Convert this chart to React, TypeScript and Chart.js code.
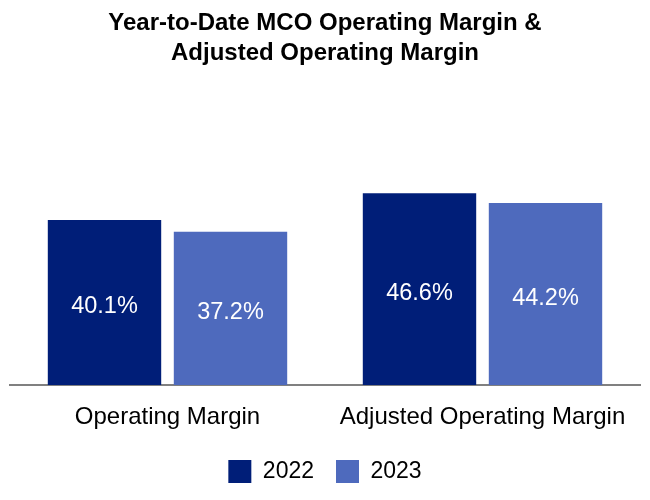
import React, { useEffect, useRef } from "react";
import { Chart, registerables } from "chart.js";

Chart.register(...registerables);

const categories: string[] = ["Operating Margin", "Adjusted Operating Margin"];
const seriesNames: string[] = ["2022", "2023"];
const values2022: number[] = [40.1, 46.6];
const values2023: number[] = [37.2, 44.2];
const titleLines: string[] = ["Year-to-Date MCO Operating Margin &", "Adjusted Operating Margin"];

const FONT = "'Liberation Sans', Arial, Helvetica, sans-serif";

const barLabelPlugin = {
  id: "barLabels",
  afterDatasetsDraw(chart: any) {
    const ctx = chart.ctx;
    ctx.save();
    ctx.fillStyle = "#ffffff";
    ctx.font = `23.5px ${FONT}`;
    ctx.textAlign = "center";
    ctx.textBaseline = "middle";
    chart.data.datasets.forEach((ds: any, i: number) => {
      const meta = chart.getDatasetMeta(i);
      meta.data.forEach((el: any, j: number) => {
        const v = ds.data[j];
        const y = (el.y + el.base) / 2 + 4;
        ctx.fillText(`${v.toFixed(1)}%`, el.x, y);
      });
    });
    ctx.restore();
  },
};

export default function App() {
  const ref = useRef<HTMLCanvasElement | null>(null);

  useEffect(() => {
    if (!ref.current) return;
    const chart = new Chart(ref.current, {
      type: "bar",
      data: {
        labels: categories,
        datasets: [
          { label: seriesNames[0], data: values2022, backgroundColor: "#001E78" },
          { label: seriesNames[1], data: values2023, backgroundColor: "#4E6ABD" },
        ],
      },
      options: {
        animation: false,
        responsive: true,
        maintainAspectRatio: false,
        layout: { padding: { left: 10, right: 10, top: 0, bottom: 7 } },
        scales: {
          x: {
            grid: { display: false, drawTicks: false },
            border: { display: true, color: "#808080", width: 2 },
            ticks: { color: "#000000", font: { family: FONT, size: 24 }, padding: 18 },
            afterFit: (scale: any) => {
              scale.height = 53;
            },
          },
          y: {
            display: false,
            min: 0,
            max: 60,
          },
        },
        plugins: {
          title: {
            display: true,
            text: titleLines,
            color: "#000000",
            font: { family: FONT, size: 24, weight: "bold", lineHeight: 1.25 },
            padding: { top: 8, bottom: 70 },
          },
          legend: {
            display: true,
            position: "bottom",
            labels: {
              color: "#000000",
              font: { family: FONT, size: 23 },
              boxWidth: 23,
              boxHeight: 23,
              padding: 22,
            },
          },
          tooltip: { enabled: false },
        },
      },
      plugins: [barLabelPlugin],
    });
    return () => chart.destroy();
  }, []);

  return (
    <div style={{ position: "fixed", left: 0, top: 0, width: 650, height: 500, background: "#ffffff" }}>
      <canvas ref={ref} />
    </div>
  );
}
